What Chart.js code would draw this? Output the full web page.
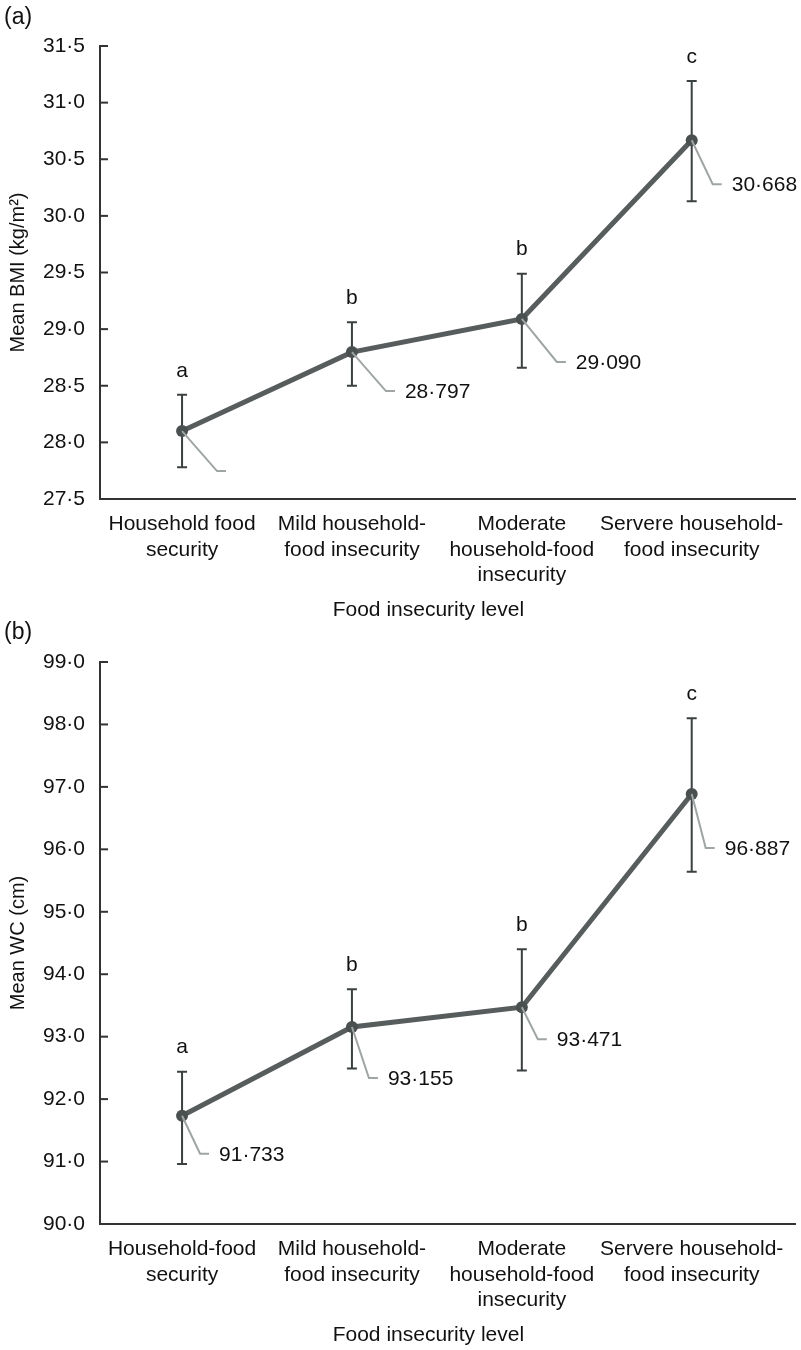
<!DOCTYPE html>
<html>
<head>
<meta charset="utf-8">
<script src="https://cdn.jsdelivr.net/npm/chart.js@4.4.0/dist/chart.umd.min.js"></script>
<style>
  body { margin: 0; background: #fff; width: 801px; height: 1350px; position: relative; overflow: hidden; font-family: "Liberation Sans", Arial, sans-serif; }
  .panel { position: absolute; left: 0; width: 801px; }
  .tag { position: absolute; left: 4px; font-size: 23px; color: #111; z-index: 2; }
</style>
</head>
<body>
<div class="tag" style="top:3px">(a)</div>
<div class="panel" style="top:0;height:625px"><canvas id="bmiChart"></canvas></div>
<div class="tag" style="top:618px">(b)</div>
<div class="panel" style="top:625px;height:725px"><canvas id="wcChart"></canvas></div>
<script>
const categories = [
  ["Household food", "security"],
  ["Mild household-", "food insecurity"],
  ["Moderate", "household-food", "insecurity"],
  ["Servere household-", "food insecurity"],
];
const categoriesWC = [
  ["Household-food", "security"],
  ["Mild household-", "food insecurity"],
  ["Moderate", "household-food", "insecurity"],
  ["Servere household-", "food insecurity"],
];
const letters = ["a", "b", "b", "c"];
const xTitle = "Food insecurity level";

// BMI (kg/m2)
const bmiMean = [28.1, 28.797, 29.09, 30.668];
const bmiUpper = [28.42, 29.06, 29.49, 31.19];
const bmiLower = [27.78, 28.5, 28.66, 30.13];
const bmiShowValue = [false, true, true, true];

// WC (cm)
const wcMean = [91.733, 93.155, 93.471, 96.887];
const wcUpper = [92.44, 93.76, 94.4, 98.1];
const wcLower = [90.96, 92.49, 92.46, 95.64];
const wcShowValue = [true, true, true, true];

const FONT = '"Liberation Sans", Arial, Helvetica, sans-serif';
const dot = (v, d) => v.toFixed(d).replace(".", "·");

function overlay(upper, lower, means, showValue, leader, decimals) {
  return {
    id: "overlay",
    beforeDatasetsDraw(chart) {
      const ctx = chart.ctx;
      const x = chart.scales.x;
      const y = chart.scales.y;
      const left = chart.chartArea.left;
      ctx.save();
      // inner ticks
      ctx.strokeStyle = "#333";
      ctx.lineWidth = 2;
      y.ticks.forEach((t) => {
        const py = y.getPixelForValue(t.value);
        ctx.beginPath();
        ctx.moveTo(left, py);
        ctx.lineTo(left + 8, py);
        ctx.stroke();
      });
      // error bars
      ctx.strokeStyle = "#3b4040";
      means.forEach((m, i) => {
        const px = x.getPixelForValue(i);
        const top = y.getPixelForValue(upper[i]);
        const bot = y.getPixelForValue(lower[i]);
        ctx.beginPath();
        ctx.moveTo(px, top);
        ctx.lineTo(px, bot);
        ctx.moveTo(px - 5, top);
        ctx.lineTo(px + 5, top);
        ctx.moveTo(px - 5, bot);
        ctx.lineTo(px + 5, bot);
        ctx.stroke();
      });
      // significance letters
      ctx.fillStyle = "#111";
      ctx.font = "21px " + FONT;
      ctx.textAlign = "center";
      ctx.textBaseline = "middle";
      letters.forEach((s, i) => {
        ctx.fillText(s, x.getPixelForValue(i), y.getPixelForValue(upper[i]) - 24);
      });
      ctx.restore();
    },
    afterDatasetsDraw(chart) {
      const ctx = chart.ctx;
      const x = chart.scales.x;
      const y = chart.scales.y;
      ctx.save();
      ctx.strokeStyle = "#9fa5a5";
      ctx.lineWidth = 2;
      ctx.fillStyle = "#111";
      ctx.font = "21px " + FONT;
      ctx.textAlign = "left";
      ctx.textBaseline = "middle";
      means.forEach((m, i) => {
        const px = x.getPixelForValue(i);
        const py = y.getPixelForValue(m);
        const bx = px + leader[i][0];
        const by = py + leader[i][1];
        ctx.beginPath();
        ctx.moveTo(px, py);
        ctx.lineTo(bx, by);
        ctx.lineTo(bx + 9, by);
        ctx.stroke();
        if (showValue[i]) ctx.fillText(dot(m, decimals), bx + 19, by + 1);
      });
      // axis title, centred a little left of the axis middle as in the figure
      ctx.font = "21px " + FONT;
      ctx.textAlign = "center";
      ctx.fillText(xTitle, x.getPixelForValue(1.45), chart.chartArea.bottom + 111);
      ctx.restore();
    },
  };
}

function makeChart(id, cats, means, upper, lower, showValue, leader, yMin, yMax, step, yTitle, topPad) {
  return new Chart(document.getElementById(id), {
    type: "line",
    data: {
      datasets: [
        {
          data: means.map((m, i) => ({ x: i, y: m })),
          borderColor: "#575c5c",
          borderWidth: 5,
          backgroundColor: "#4a4f4f",
          pointBackgroundColor: "#4a4f4f",
          pointBorderWidth: 0,
          pointRadius: 6,
          tension: 0,
        },
      ],
    },
    options: {
      responsive: true,
      maintainAspectRatio: false,
      animation: false,
      layout: { padding: { top: topPad, right: 1, left: 0, bottom: 0 } },
      plugins: { legend: { display: false }, tooltip: { enabled: false } },
      scales: {
        x: {
          type: "linear",
          min: -0.483,
          max: 3.608,
          grid: { display: false, drawTicks: false },
          border: { display: true, color: "#333", width: 2 },
          afterBuildTicks: (s) => { s.ticks = [0, 1, 2, 3].map((v) => ({ value: v })); },
          afterFit: (s) => { s.height = 126; },
          ticks: {
            autoSkip: false,
            maxRotation: 0,
            padding: 13,
            color: "#111",
            font: { family: FONT, size: 21, lineHeight: 1.2 },
            callback: (v) => cats[v],
          },
        },
        y: {
          min: yMin,
          max: yMax,
          grid: { display: false, drawTicks: false },
          border: { display: true, color: "#333", width: 2 },
          afterFit: (s) => { s.width = 100; },
          ticks: {
            stepSize: step,
            padding: 15,
            color: "#111",
            font: { family: FONT, size: 21 },
            callback: (v) => dot(v, 1),
          },
          title: {
            display: true,
            text: yTitle,
            color: "#111",
            font: { family: FONT, size: 20 },
            padding: { top: 6, bottom: 4 },
          },
        },
      },
    },
    plugins: [overlay(upper, lower, means, showValue, leader, 3)],
  });
}

makeChart("bmiChart", categories, bmiMean, bmiUpper, bmiLower, bmiShowValue,
  [[35, 40], [34, 39], [35, 43], [21, 44]], 27.5, 31.5, 0.5, "Mean BMI (kg/m²)", 46);
makeChart("wcChart", categoriesWC, wcMean, wcUpper, wcLower, wcShowValue,
  [[18, 38], [17, 51], [16, 32], [14, 54]], 90, 99, 1, "Mean WC (cm)", 37);
</script>
</body>
</html>
